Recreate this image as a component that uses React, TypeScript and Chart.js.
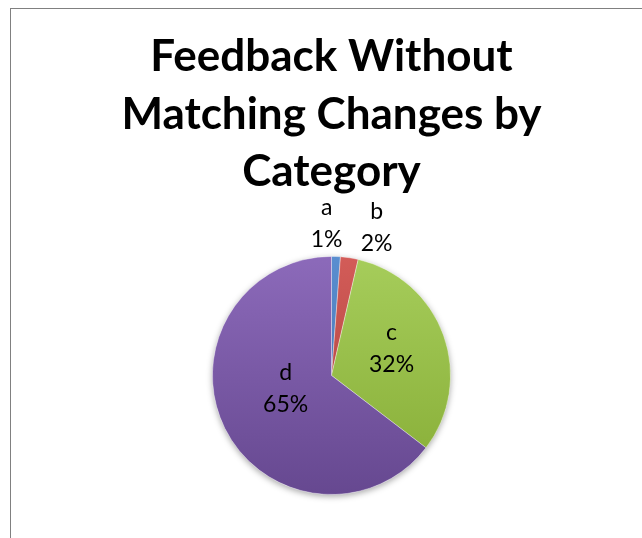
import React, { useEffect, useRef } from 'react';
import { Chart, registerables } from 'chart.js';

Chart.register(...registerables);

const categories = ['a', 'b', 'c', 'd'];
const values = [1.2, 2.4, 31.8, 64.6];
const titleLines = ['Feedback Without', 'Matching Changes by', 'Category'];

const lightColors = ['#5A8ED0', '#D35C58', '#A6CD5B', '#8C6ABA'];
const darkColors = ['#3F6CA6', '#A63D3A', '#86AC35', '#664890'];

const shadowPlugin = {
  id: 'pieShadow',
  beforeDatasetsDraw(chart: any) {
    const meta = chart.getDatasetMeta(0);
    const arc = meta.data[0];
    if (!arc) return;
    const { x, y, outerRadius } = arc.getProps(['x', 'y', 'outerRadius'], true);
    const ctx = chart.ctx;
    ctx.save();
    ctx.beginPath();
    ctx.arc(x, y, outerRadius, 0, Math.PI * 2);
    ctx.shadowColor = 'rgba(0,0,0,0.35)';
    ctx.shadowBlur = 6;
    ctx.shadowOffsetY = 2;
    ctx.fillStyle = '#ffffff';
    ctx.fill();
    ctx.restore();
  },
};

const labelPlugin = {
  id: 'sliceLabels',
  afterDatasetsDraw(chart: any, _args: any, opts: any) {
    const meta = chart.getDatasetMeta(0);
    const data = chart.data.datasets[0].data as number[];
    const total = data.reduce((s, v) => s + v, 0);
    const ctx = chart.ctx;
    ctx.save();
    ctx.font = opts.font;
    ctx.fillStyle = '#000000';
    ctx.textAlign = 'center';
    ctx.textBaseline = 'alphabetic';
    meta.data.forEach((arc: any, i: number) => {
      const { x, y, startAngle, endAngle, outerRadius } = arc.getProps(
        ['x', 'y', 'startAngle', 'endAngle', 'outerRadius'],
        true
      );
      const p = opts.placement[i];
      const mid = (startAngle + endAngle) / 2 + (p.shift * Math.PI) / 180;
      const d = outerRadius * p.rf;
      const cx = x + Math.cos(mid) * d;
      const cy = y + Math.sin(mid) * d;
      const pct = Math.round((data[i] / total) * 100) + '%';
      ctx.fillText(String(chart.data.labels[i]), cx, cy - opts.lineHeight / 2 + opts.baseOffset);
      ctx.fillText(pct, cx, cy + opts.lineHeight / 2 + opts.baseOffset);
    });
    ctx.restore();
  },
};

export default function App() {
  const canvasRef = useRef<HTMLCanvasElement | null>(null);

  useEffect(() => {
    if (!canvasRef.current) return;
    const chart = new Chart(canvasRef.current, {
      type: 'pie',
      data: {
        labels: categories,
        datasets: [
          {
            data: values,
            backgroundColor: (c: any) => {
              const i = c.dataIndex;
              const area = c.chart.chartArea;
              if (!area) return darkColors[i];
              const g = c.chart.ctx.createLinearGradient(0, area.top, 0, area.bottom);
              g.addColorStop(0, lightColors[i]);
              g.addColorStop(1, darkColors[i]);
              return g;
            },
            borderColor: 'rgba(255,255,255,0.35)',
            borderWidth: 1,
          },
        ],
      },
      options: {
        responsive: false,
        animation: false,
        layout: { padding: { bottom: 44 } },
        plugins: {
          legend: { display: false },
          tooltip: { enabled: false },
          title: {
            display: true,
            text: titleLines,
            color: '#000000',
            font: { family: 'Lato', weight: 'bold', size: 44, lineHeight: 1.31 },
            padding: { top: 19, bottom: 55 },
          },
          sliceLabels: {
            font: '23px Lato',
            lineHeight: 32,
            baseOffset: 8,
            placement: [
              { rf: 1.28, shift: -4 },
              { rf: 1.3, shift: 8.3 },
              { rf: 0.553, shift: -4.4 },
              { rf: 0.4, shift: 10.5 },
            ],
          },
        } as any,
      },
      plugins: [shadowPlugin, labelPlugin],
    });
    return () => chart.destroy();
  }, []);

  return (
    <div
      style={{
        position: 'fixed',
        left: 0,
        top: 0,
        width: 642,
        height: 538,
        overflow: 'hidden',
        background: '#ffffff',
      }}
    >
      <div
        style={{
          position: 'absolute',
          left: 10,
          top: 8,
          width: 641,
          height: 540,
          borderTop: '1.5px solid #808080',
          borderLeft: '1.5px solid #808080',
          background: '#ffffff',
        }}
      >
        <canvas ref={canvasRef} width={641} height={530} style={{ display: 'block' }} />
      </div>
    </div>
  );
}
